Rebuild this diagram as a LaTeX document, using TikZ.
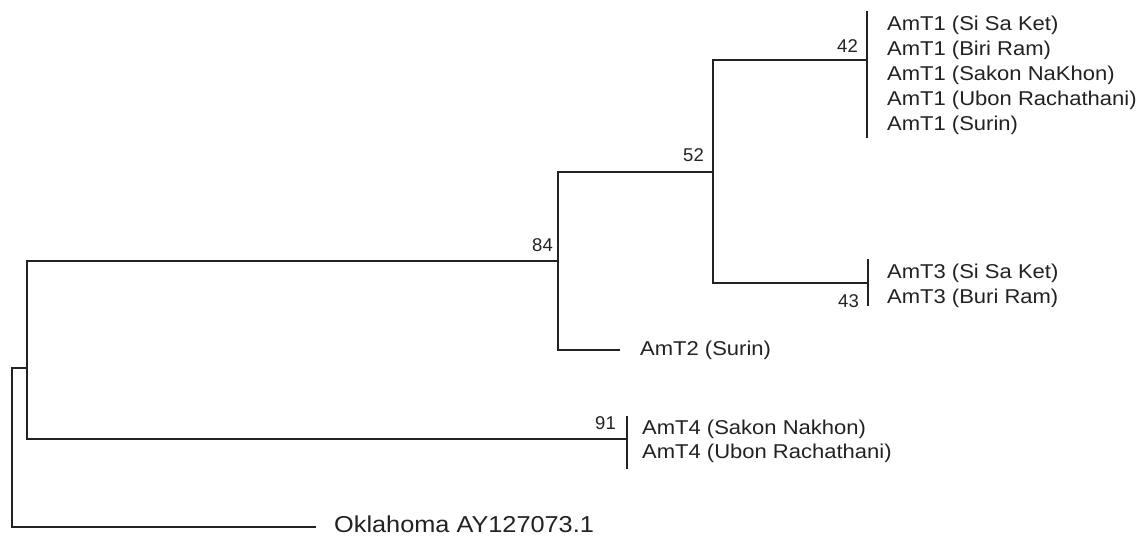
\documentclass[tikz,border=0pt]{standalone}
\usepackage{fontspec}
\newfontfamily\labfont[FakeStretch=1.1]{Liberation Sans}
\newfontfamily\numfont[FakeStretch=1.0]{Liberation Sans}
\definecolor{ink}{HTML}{222222}
\begin{document}
\begin{tikzpicture}[x=1pt,y=-1pt,
  branch/.style={draw=ink,line width=1.7pt,line cap=rect,line join=miter},
  leaf/.style={anchor=west,inner sep=0pt,text=ink,font=\labfont\fontsize{20}{24}\selectfont,text height=14.3pt,text depth=0pt},
  bigleaf/.style={anchor=west,inner sep=0pt,text=ink,font=\labfont\fontsize{23}{28}\selectfont,text height=16.5pt,text depth=0pt},
  boot/.style={anchor=east,inner sep=0pt,text=ink,font=\numfont\fontsize{18.5}{22}\selectfont,text height=13.2pt,text depth=0pt}]
\useasboundingbox (0,0) rectangle (1146,537);
\fill[white] (0,0) rectangle (1146,537);
% tree nodes
\coordinate (root) at (12,368);
\coordinate (A) at (27,368);
\coordinate (n84) at (558,261);
\coordinate (n52) at (713,172);
\coordinate (n42) at (867,60);
\coordinate (n42a) at (867,12);
\coordinate (n42b) at (867,137);
\coordinate (n43) at (868,283);
\coordinate (n43a) at (868,260);
\coordinate (n43b) at (868,305);
\coordinate (n91) at (627,439);
\coordinate (n91a) at (627,417);
\coordinate (n91b) at (627,468);
\coordinate (t2) at (619,350);
\coordinate (okl) at (315,527);
% branches
\path[branch] (root) -- (A);
\path[branch] (root) |- (okl);
\path[branch] (A) |- (n84);
\path[branch] (A) |- (n91);
\path[branch] (n84) |- (n52);
\path[branch] (n84) |- (t2);
\path[branch] (n52) |- (n42);
\path[branch] (n52) |- (n43);
\path[branch] (n42a) -- (n42b);
\path[branch] (n43a) -- (n43b);
\path[branch] (n91a) -- (n91b);
% leaf labels
\node[leaf] (l1) at (887,23) {AmT1 (Si Sa Ket)};
\node[leaf] (l2) at (887,48) {AmT1 (Biri Ram)};
\node[leaf] (l3) at (887,73) {AmT1 (Sakon NaKhon)};
\node[leaf] (l4) at (887,98) {AmT1 (Ubon Rachathani)};
\node[leaf] (l5) at (887,123) {AmT1 (Surin)};
\node[leaf] (l6) at (887,271) {AmT3 (Si Sa Ket)};
\node[leaf] (l7) at (887,296) {AmT3 (Buri Ram)};
\node[leaf] (l8) at (640,348) {AmT2 (Surin)};
\node[leaf] (l9) at (642,427) {AmT4 (Sakon Nakhon)};
\node[leaf] (l10) at (642,451) {AmT4 (Ubon Rachathani)};
\node[bigleaf] (l11) at (334,524) {Oklahoma AY127073.1};
% bootstrap values
\node[boot] (b42) at (858,46) {42};
\node[boot] (b43) at (859,301) {43};
\node[boot] (b84) at (553,245) {84};
\node[boot] (b52) at (704,155) {52};
\node[boot] (b91) at (616,423) {91};
\end{tikzpicture}
\end{document}
